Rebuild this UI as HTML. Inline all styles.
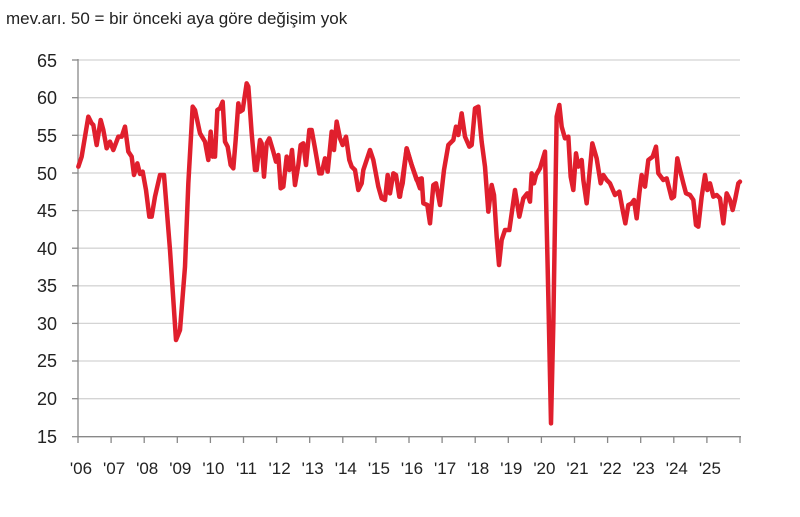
<!DOCTYPE html>
<html><head><meta charset="utf-8"><style>
body{margin:0;background:#fff;}
svg{display:block;font-family:"Liberation Sans",sans-serif;}
</style></head><body>
<svg width="800" height="517" viewBox="0 0 800 517">
<text x="6" y="24" font-size="17" fill="#222">mev.arı. 50 = bir önceki aya göre değişim yok</text>
<g stroke="#d4d4d4" stroke-width="1.3">
<line x1="78" x2="740" y1="60" y2="60"/><line x1="78" x2="740" y1="97.7" y2="97.7"/>
<line x1="78" x2="740" y1="135.3" y2="135.3"/><line x1="78" x2="740" y1="173" y2="173"/>
<line x1="78" x2="740" y1="210.6" y2="210.6"/><line x1="78" x2="740" y1="248.2" y2="248.2"/>
<line x1="78" x2="740" y1="285.8" y2="285.8"/><line x1="78" x2="740" y1="323.4" y2="323.4"/>
<line x1="78" x2="740" y1="361" y2="361"/><line x1="78" x2="740" y1="398.7" y2="398.7"/>
</g>
<g stroke="#888" stroke-width="1.3">
<line x1="78" x2="78" y1="59" y2="437"/><line x1="78" x2="741" y1="436.7" y2="436.7"/>
<line x1="72" x2="78" y1="60" y2="60"/><line x1="72" x2="78" y1="97.7" y2="97.7"/><line x1="72" x2="78" y1="135.3" y2="135.3"/><line x1="72" x2="78" y1="173" y2="173"/><line x1="72" x2="78" y1="210.6" y2="210.6"/><line x1="72" x2="78" y1="248.2" y2="248.2"/><line x1="72" x2="78" y1="285.8" y2="285.8"/><line x1="72" x2="78" y1="323.4" y2="323.4"/><line x1="72" x2="78" y1="361" y2="361"/><line x1="72" x2="78" y1="398.7" y2="398.7"/><line x1="72" x2="78" y1="436.7" y2="436.7"/>
</g>
<g stroke="#888" stroke-width="1.3" id="xt"></g>
<g font-size="18" fill="#222" text-anchor="end">
<text x="57" y="67">65</text><text x="57" y="104">60</text><text x="57" y="142">55</text><text x="57" y="180">50</text><text x="57" y="217">45</text><text x="57" y="255">40</text><text x="57" y="292">35</text><text x="57" y="330">30</text><text x="57" y="367">25</text><text x="57" y="405">20</text><text x="57" y="443">15</text>
</g>
<g font-size="17" fill="#222" text-anchor="middle" id="xl"></g>
<g transform="translate(60,50) scale(0.33333)" fill="none" stroke="#e01f2d" stroke-width="13.5" stroke-linejoin="round" stroke-linecap="round">
<polyline points="55,350 65,320 85,200 95,220 100,225 110,285 122,210 130,240 140,295 150,275 160,300 175,260 185,260 195,230 205,305 215,320 222,375 232,340 240,372 248,365 258,420 268,500 275,500 285,440 300,375 312,375 330,600 348,870 360,840 375,650 385,400 398,170 405,180 420,250 435,275 445,330 452,245 458,320 462,300 465,320 472,180 480,175 488,155 495,275 503,290 512,345 520,355 527,270 535,160 540,185 548,180 560,100 565,110 568,150 575,250 585,360 590,360 600,270 605,280 612,380 620,280 628,265 640,305 648,335 655,315 662,415 670,410 680,320 688,360 696,300 705,405 715,345 722,285 730,280 738,345 748,240 755,240 765,295 778,370 785,370 795,325 803,365 815,245 822,300 830,215 840,265 848,285 858,260 868,330 875,350 885,360 895,420 905,400 910,360 920,330 930,300 940,330 955,410 965,445 975,450 983,375 990,430 1000,370 1008,375 1018,440 1028,400 1040,295 1055,345 1080,415"/>
</g>
<g transform="translate(400,50) scale(0.33333)" fill="none" stroke="#e01f2d" stroke-width="13.5" stroke-linejoin="round" stroke-linecap="round">
<polyline points="0,440 20,295 35,345 50,390 65,385 70,460 82,465 90,520 100,405 108,400 120,465 132,360 145,285 160,270 168,230 175,255 185,190 195,260 208,290 215,285 225,175 235,170 245,275 255,350 265,485 275,405 282,435 290,560 297,645 305,570 315,540 328,540 345,420 358,500 370,445 382,430 390,455 395,370 402,400 408,375 420,355 435,305 445,740 453,1120 460,820 470,200 478,165 485,230 495,265 505,260 512,380 520,420 528,310 535,350 545,330 550,390 560,460 577,280 590,325 602,400 610,375 620,390 630,400 645,435 658,425 668,480 676,520 685,465 695,460 702,450 710,505 718,430 725,375 735,410 745,330 758,320 768,290 775,370 790,390 800,385 815,445 822,440 832,325 840,360 850,400 858,430 870,435 880,450 888,525 895,530 905,440 915,375 922,420 930,400 940,440 950,435 960,445 970,520 980,430 990,450 998,480 1005,450 1015,400 1020,395"/>
</g>
<script>
var xt=document.getElementById('xt'),xl=document.getElementById('xl'),ns='http://www.w3.org/2000/svg';
for(var i=0;i<=20;i++){var x=78+i*33.1;var l=document.createElementNS(ns,'line');l.setAttribute('x1',x);l.setAttribute('x2',x);l.setAttribute('y1',436.7);l.setAttribute('y2',443);xt.appendChild(l);
if(i<20){var t=document.createElementNS(ns,'text');t.setAttribute('x',x+3);t.setAttribute('y',474);t.textContent="'"+String(6+i).padStart(2,'0');xl.appendChild(t);}}
</script>
</svg>
</body></html>
